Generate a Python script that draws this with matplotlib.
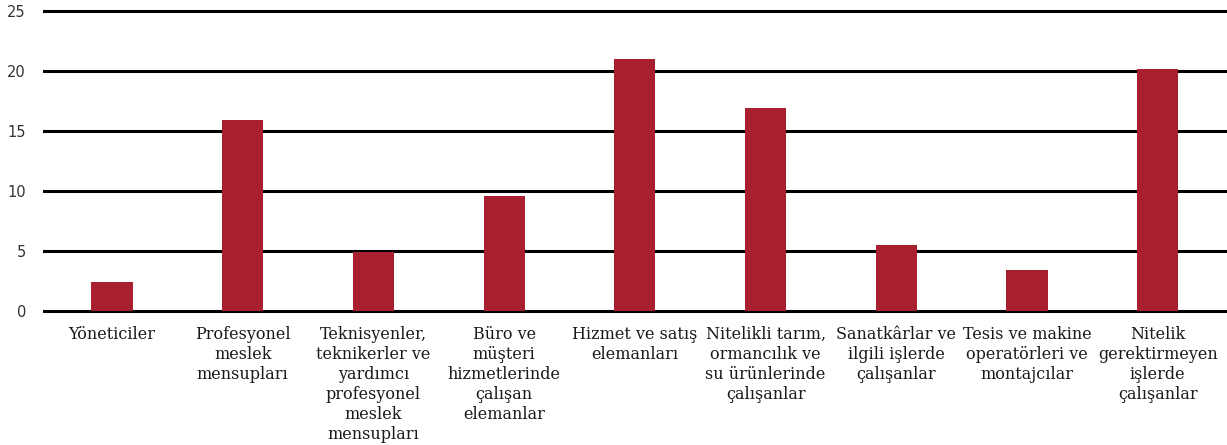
import matplotlib
matplotlib.use("Agg")
import matplotlib.pyplot as plt

categories = [
    "Yöneticiler",
    "Profesyonel\nmeslek\nmensupları",
    "Teknisyenler,\nteknikerler ve\nyardımcı\nprofesyonel\nmeslek\nmensupları",
    "Büro ve\nmüşteri\nhizmetlerinde\nçalışan\nelemanlar",
    "Hizmet ve satış\nelemanları",
    "Nitelikli tarım,\normancılık ve\nsu ürünlerinde\nçalışanlar",
    "Sanatkârlar ve\nilgili işlerde\nçalışanlar",
    "Tesis ve makine\noperatörleri ve\nmontajcılar",
    "Nitelik\ngerektirmeyen\nişlerde\nçalışanlar",
]
values = [2.4, 15.9, 4.9, 9.6, 21.0, 16.9, 5.5, 3.4, 20.2]
yticks = [0, 5, 10, 15, 20, 25]

fig = plt.figure(figsize=(12.27, 4.45), dpi=100)
ax = fig.add_axes([44/1227, 134/445, 1 - 44/1227, 300/445])

x = list(range(len(categories)))
for yv in yticks:
    ax.axhline(yv, color="black", lw=2.2, zorder=1, clip_on=False)
ax.bar(x, values, width=0.315, color="#A81F2F", zorder=2)

ax.set_xlim(-0.52, 8.53)
ax.set_ylim(0, 25)
ax.set_yticks(yticks)
ax.set_yticklabels([str(v) for v in yticks], fontsize=10.5, family="DejaVu Sans", color="#333333")
ax.set_xticks(x)
ax.set_xticklabels(categories, fontsize=11.5, family="DejaVu Serif", color="#1a1a1a", linespacing=1.22)
ax.tick_params(axis="both", length=0)
ax.tick_params(axis="y", pad=13)
ax.tick_params(axis="x", pad=11)
for s in ax.spines.values():
    s.set_visible(False)

fig.savefig("out.png", dpi=100)
